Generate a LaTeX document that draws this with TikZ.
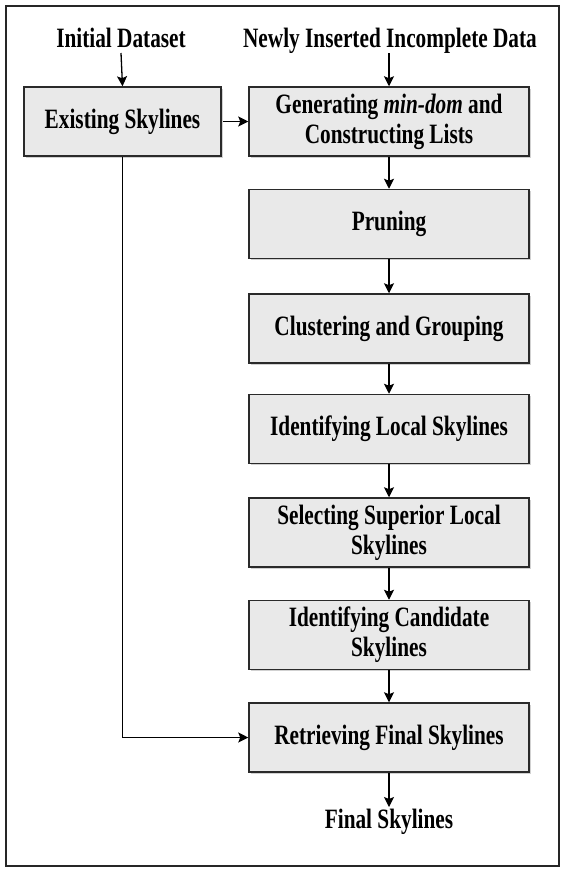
\documentclass[tikz,border=0pt]{standalone}
\usepackage{fontspec}
\setmainfont[FakeStretch=0.76]{Liberation Serif}
\usetikzlibrary{arrows.meta,shadows}
\definecolor{boxfill}{HTML}{E9E9E9}
\definecolor{boxline}{HTML}{2A2A2A}
\tikzset{
  stepbox/.style={draw=boxline, line width=1.5pt, fill=boxfill, rectangle,
    minimum width=280pt, minimum height=69pt, inner sep=0pt, align=center,
    font=\fontsize{28}{30}\selectfont\bfseries,
    drop shadow={shadow xshift=1.5pt, shadow yshift=-1.5pt, fill=black!30, opacity=0.6}},
  lbl/.style={inner sep=0pt, font=\fontsize{28}{30}\selectfont\bfseries, anchor=base},
  flow/.style={draw=black, line width=1.3pt, -{Stealth[length=10pt,width=10pt,inset=2pt]}}
}
\begin{document}
\begin{tikzpicture}[x=1pt,y=-1pt]
\useasboundingbox (0,0) rectangle (563,871);
\draw[line width=2pt, draw=black!85] (6,6) rectangle (559,866);

\node[lbl] (init) at (121,47) {Initial Dataset};
\node[lbl] (newd) at (390,47) {Newly Inserted Incomplete Data};

\node[stepbox, minimum width=197pt] (exist) at (122.5,121.5) {Existing Skylines};
\node[stepbox] (gen) at (389,121.5) {Generating \textit{min-dom} and\\Constructing Lists};
\node[stepbox] (prune) at (389,224) {Pruning};
\node[stepbox] (clust) at (389,328.5) {Clustering and Grouping};
\node[stepbox] (local) at (389,429) {Identifying Local Skylines};
\node[stepbox] (sup) at (389,532.5) {Selecting Superior Local\\Skylines};
\node[stepbox] (cand) at (389,635) {Identifying Candidate\\Skylines};
\node[stepbox] (retr) at (389,737.5) {Retrieving Final Skylines};

\node[lbl] (final) at (389,828) {Final Skylines};

\coordinate (initb) at (121,53);
\coordinate (newdb) at (389,53);
\coordinate (finalt) at (389,807);

\draw[flow] (initb) -- (exist.north);
\draw[flow] (newdb) -- (gen.north);
\draw[flow] ([xshift=1.5pt]exist.east) -- (gen.west);
\draw[flow] (gen.south) -- (prune.north);
\draw[flow] (prune.south) -- (clust.north);
\draw[flow] (clust.south) -- (local.north);
\draw[flow] (local.south) -- (sup.north);
\draw[flow] (sup.south) -- (cand.north);
\draw[flow] (cand.south) -- (retr.north);
\draw[flow] (retr.south) -- (finalt);
\draw[flow] (exist.south) |- (retr.west);
\end{tikzpicture}
\end{document}
